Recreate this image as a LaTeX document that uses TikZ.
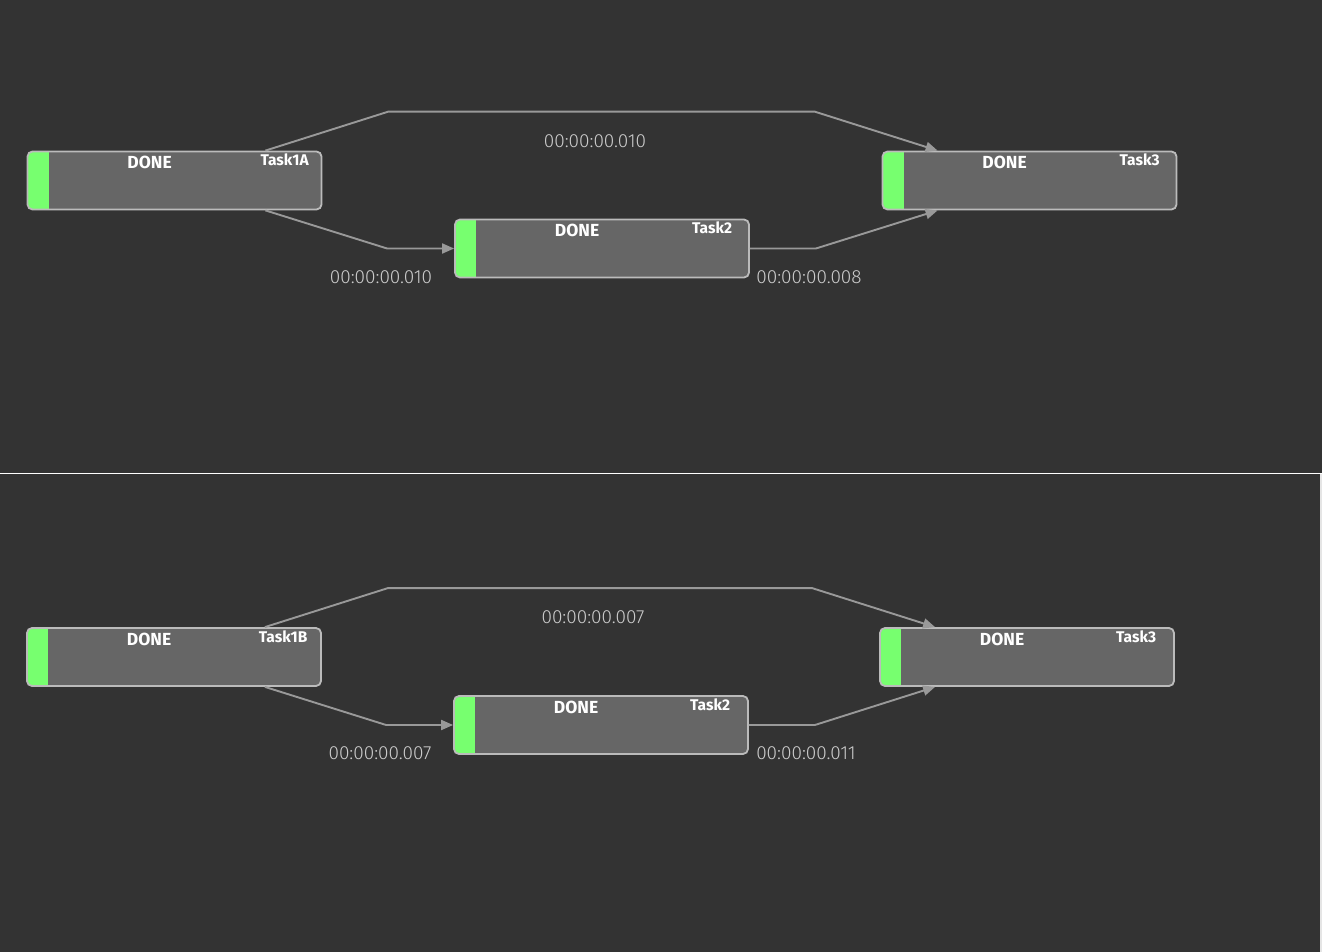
\documentclass[tikz,border=0pt]{standalone}
\usepackage{fontspec}
\setmainfont{Fira Sans}
\newfontfamily\lightsans{Fira Sans}[UprightFont=* Light]
\usetikzlibrary{arrows.meta,calc}
\definecolor{bgdark}{HTML}{333333}
\definecolor{boxgray}{HTML}{666666}
\definecolor{boxedge}{HTML}{BBBBBB}
\definecolor{donegreen}{HTML}{77FF6F}
\definecolor{edgegray}{HTML}{999999}
\definecolor{timegray}{HTML}{CCCCCC}

\begin{document}
\begin{tikzpicture}[x=1pt, y=-1pt,
  task/.style={draw=boxedge, line width=1.8pt, fill=boxgray, rounded corners=5pt, minimum width=294pt, minimum height=58pt, inner sep=0pt,
    path picture={\fill[donegreen, sharp corners] (path picture bounding box.south west) rectangle ([xshift=21pt]path picture bounding box.north west);}},
  state/.style={text=white, font=\bfseries\fontsize{17.5}{17.5}\selectfont, inner sep=0pt},
  tname/.style={text=white, font=\bfseries\fontsize{15.5}{15.5}\selectfont, inner sep=0pt, anchor=north},
  time/.style={text=timegray, font=\lightsans\fontsize{19}{19}\selectfont, inner sep=0pt},
  edge/.style={draw=edgegray, line width=1.9pt, -{Triangle[length=12pt, width=10pt]}}]
\fill[bgdark] (0,0) rectangle (1322,952);
\useasboundingbox (0,0) rectangle (1322,952);
\draw[white, line width=1pt] (0,473) -- (1322,473);
\fill[white!90!black] (1320,474) rectangle (1322,952);
% first run
\node[task] (t1a) at (174.5,180.5) {};
\node[task] (t2a) at (602,248.5) {};
\node[task] (t3a) at (1029.5,180.5) {};
\foreach \t/\n in {t1a/Task1A, t2a/Task2, t3a/Task3} {
  \node[state] (s\t) at ([xshift=123pt,yshift=-12pt]\t.north west) {DONE};
  \node[tname] (n\t) at ([xshift=258pt,yshift=-3pt]\t.north west) {\n};
}
\draw[edge] ([xshift=-57pt]t1a.north east) -- ++(123,-39) -- ($(t3a.north west)+(-67,-39)$) -- ([xshift=56pt]t3a.north west);
\draw[edge] ([xshift=-57pt]t1a.south east) -- ($(t2a.west)+(-67,0)$) -- (t2a.west);
\draw[edge] (t2a.east) -- ++(66,0) -- ([xshift=56pt]t3a.south west);
\node[time] (d13a) at (595,141) {00:00:00.010};
\node[time] (d12a) at (381,277) {00:00:00.010};
\node[time] (d23a) at (809,277) {00:00:00.008};
% second run
\node[task] (t1b) at (174,657) {};
\node[task] (t2b) at (601,725) {};
\node[task] (t3b) at (1027,657) {};
\foreach \t/\n in {t1b/Task1B, t2b/Task2, t3b/Task3} {
  \node[state] (s\t) at ([xshift=123pt,yshift=-12pt]\t.north west) {DONE};
  \node[tname] (n\t) at ([xshift=257pt,yshift=-3pt]\t.north west) {\n};
}
\draw[edge] ([xshift=-57pt]t1b.north east) -- ++(123,-39) -- ($(t3b.north west)+(-67,-39)$) -- ([xshift=56pt]t3b.north west);
\draw[edge] ([xshift=-57pt]t1b.south east) -- ($(t2b.west)+(-67,0)$) -- (t2b.west);
\draw[edge] (t2b.east) -- ++(66,0) -- ([xshift=56pt]t3b.south west);
\node[time] (d13b) at (593,617) {00:00:00.007};
\node[time] (d12b) at (380,753) {00:00:00.007};
\node[time] (d23b) at (806,753) {00:00:00.011};
\end{tikzpicture}
\end{document}
